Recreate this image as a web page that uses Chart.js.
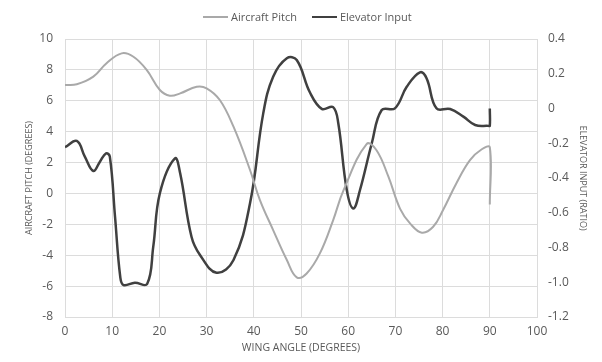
<!DOCTYPE html>
<html>
<head>
<meta charset="utf-8">
<script src="https://cdn.jsdelivr.net/npm/chart.js@4/dist/chart.umd.min.js"></script>
<style>
  html, body { margin: 0; padding: 0; background: #fff; }
  #wrap { width: 602px; height: 362px; position: relative; }
  #legend {
    position: absolute; top: 9px; left: 203px;
    display: flex; gap: 15px;
    font: 11px "Open Sans", sans-serif; line-height: 16px; color: #595959;
  }
  #legend .item { display: flex; align-items: center; white-space: nowrap; }
  #legend .swatch { width: 25px; margin-right: 3px; }
</style>
</head>
<body>
<div id="wrap">
  <canvas id="chart"></canvas>
  <div id="legend"></div>
</div>
<script>
// ====== data ======
const pitchAngles = [0, 2.5, 6, 8.8, 12, 14.5, 17.3, 20.1, 22.2, 24.4, 27.9, 30, 32.8, 35.7, 39.2,
  41.3, 44.1, 47, 49.1, 51.2, 54, 56.8, 59, 63.9, 66, 68.5, 71, 73.1, 75.6, 78, 80.1, 82.9, 85.8,
  88.3, 90, 90];
const pitchValues = [7.02, 7.07, 7.56, 8.43, 9.07, 8.85, 8.0, 6.7, 6.33, 6.48, 6.91, 6.81, 6.05, 4.32, 1.52,
  -0.43, -2.37, -4.31, -5.43, -5.18, -3.88, -1.74, 0.2, 3.2, 2.8, 1.1, -1.0, -1.94, -2.54, -2.16, -1.07,
  0.65, 2.16, 2.86, 2.99, -0.72];

const elevatorAngles = [0, 2.5, 4.2, 6, 7.4, 8.7, 9.5, 10.6, 11.7, 12.4, 14.8, 17.4, 18.7, 20.1, 23.3,
  24.4, 26.8, 28.6, 32.1, 35.7, 39.2, 42, 44.1, 47, 49.1, 51.9, 54.4, 56.8, 57.9, 59.7, 61.1, 62.5,
  65, 67.1, 69.9, 72.4, 75.2, 76.6, 78.7, 81.6, 84.4, 86.9, 89.7, 90, 90];
const elevatorValues = [-0.223, -0.187, -0.277, -0.36, -0.306, -0.258, -0.277, -0.623, -0.968, -1.016,
  -1.003, -1.01, -0.795, -0.488, -0.287, -0.373, -0.738, -0.843, -0.945, -0.872, -0.546, -0.028, 0.183,
  0.289, 0.279, 0.092, -0.002, 0.008, -0.085, -0.469, -0.575, -0.469, -0.2, -0.009, 0.001, 0.125, 0.208,
  0.174, 0.001, -0.003, -0.047, -0.095, -0.1, -0.1, 0.0];

const pitchTicks = [-8, -6, -4, -2, 0, 2, 4, 6, 8, 10];
const ratioTicks = [-1.2, -1, -0.8, -0.6, -0.4, -0.2, 0, 0.2, 0.4];

const toPoints = (xs, ys) => xs.map((x, i) => ({ x, y: ys[i] }));

const txt = "#595959";
const grid = "#dcdcdc";
const tickFont = { family: "Open Sans", size: 12 };
const sideTitleFont = { family: "Open Sans", size: 9 };
const bottomTitleFont = { family: "Open Sans", size: 10.5 };

const chart = new Chart(document.getElementById("chart"), {
  type: "line",
  data: {
    datasets: [
      {
        label: "Aircraft Pitch",
        data: toPoints(pitchAngles, pitchValues),
        yAxisID: "y",
        borderColor: "#a9a9a9",
        borderWidth: 2,
        pointRadius: 0,
        tension: 0.4,
      },
      {
        label: "Elevator Input",
        data: toPoints(elevatorAngles, elevatorValues),
        yAxisID: "y1",
        borderColor: "#404040",
        borderWidth: 2.5,
        pointRadius: 0,
        tension: 0.4,
      },
    ],
  },
  options: {
    responsive: true,
    maintainAspectRatio: false,
    animation: false,
    layout: { padding: { top: 39, left: 0, right: 0, bottom: 0 } },
    plugins: {
      tooltip: { enabled: false },
      legend: { display: false },
    },
    scales: {
      x: {
        type: "linear",
        min: 0,
        max: 100,
        ticks: { stepSize: 10, color: txt, font: tickFont, padding: 7 },
        grid: { color: grid, drawTicks: false },
        border: { display: false },
        title: { display: true, text: "WING ANGLE (DEGREES)", color: txt, font: bottomTitleFont, padding: { top: 0, bottom: 8 } },
        afterFit: (s) => { s.height = 45; },
      },
      y: {
        position: "left",
        min: -8,
        max: 10,
        afterBuildTicks: (s) => { s.ticks = pitchTicks.map((v) => ({ value: v })); },
        ticks: { color: txt, font: tickFont, padding: 12 },
        grid: { color: grid, drawTicks: false },
        border: { display: false },
        title: { display: true, text: "AIRCRAFT PITCH (DEGREES)", color: txt, font: sideTitleFont, padding: { top: 24, bottom: 0 } },
        afterFit: (s) => { s.width = 65; },
      },
      y1: {
        position: "right",
        min: -1.2,
        max: 0.4,
        afterBuildTicks: (s) => { s.ticks = ratioTicks.map((v) => ({ value: v })); },
        ticks: { color: txt, font: tickFont, padding: 11 },
        grid: { drawOnChartArea: false, drawTicks: false },
        border: { display: true, color: grid },
        title: { display: true, text: "ELEVATOR INPUT (RATIO)", color: txt, font: sideTitleFont, padding: { top: 14, bottom: 0 } },
        afterFit: (s) => { s.width = 65; },
      },
    },
  },
});

// ====== legend (line swatch + label per dataset) ======
const legendBox = document.getElementById("legend");
chart.data.datasets.forEach((ds) => {
  const item = document.createElement("div");
  item.className = "item";
  const sw = document.createElement("span");
  sw.className = "swatch";
  sw.style.height = ds.borderWidth + "px";
  sw.style.background = ds.borderColor;
  const label = document.createElement("span");
  label.textContent = ds.label;
  item.appendChild(sw);
  item.appendChild(label);
  legendBox.appendChild(item);
});
</script>
</body>
</html>
